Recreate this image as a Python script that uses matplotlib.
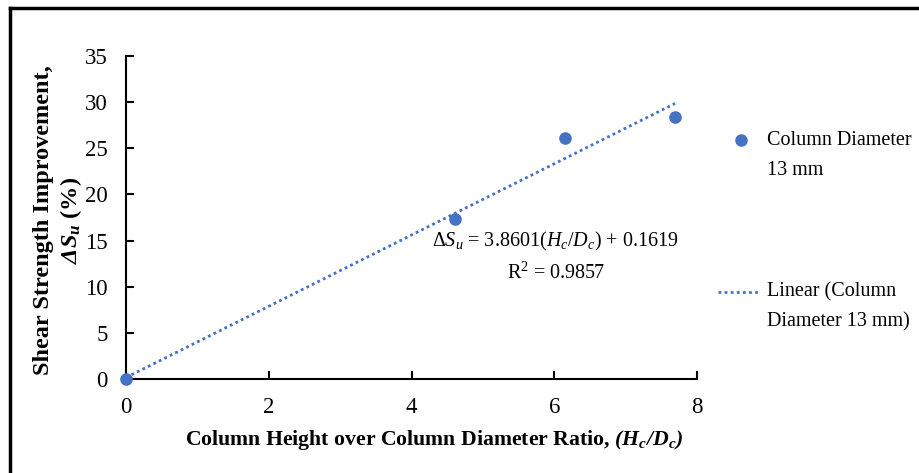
import matplotlib
matplotlib.use("Agg")
import matplotlib.pyplot as plt
from matplotlib.lines import Line2D
import numpy as np

plt.rcParams['font.family'] = ['Liberation Serif', 'DejaVu Serif']
plt.rcParams['mathtext.fontset'] = 'custom'
plt.rcParams['mathtext.rm'] = 'Liberation Serif'
plt.rcParams['mathtext.it'] = 'Liberation Serif:italic'
plt.rcParams['mathtext.bf'] = 'Liberation Serif:bold'
plt.rcParams['mathtext.bfit'] = 'Liberation Serif:bold:italic'

# Data
ratio = [0.0, 4.615, 6.154, 7.692]
improvement = [0.0, 17.3, 26.1, 28.4]
slope = 3.8601
intercept = 0.1619
r2 = 0.9857
xticks = [0, 2, 4, 6, 8]
yticks = [0, 5, 10, 15, 20, 25, 30, 35]
legend_labels = ['Column Diameter\n13 mm', 'Linear (Column\nDiameter 13 mm)']

blue = '#4472C4'

fig = plt.figure(figsize=(9.2, 4.73), dpi=100)
ax = fig.add_axes([0.137, 0.1987, 0.6206, 0.6829])

ax.scatter(ratio, improvement, s=65, color=blue, zorder=3, clip_on=False)
xf = np.array([min(ratio), max(ratio)])
ax.plot(xf, slope * xf + intercept, linestyle=(0, (1, 1.2)), color=blue, lw=2.0, zorder=2)

ax.set_xlim(0, 8)
ax.set_ylim(0, 35)
ax.set_xticks(xticks)
ax.set_yticks(yticks)
ax.spines['top'].set_visible(False)
ax.spines['right'].set_visible(False)
for s in ('left', 'bottom'):
    ax.spines[s].set_linewidth(1.5)
ax.tick_params(direction='in', length=6, width=1.5, labelsize=16.5, pad=13)

ax.set_xlabel('Column Height over Column Diameter Ratio, $\\mathbfit{(H_c/D_c)}$',
              fontsize=15.7, fontweight='bold')
ax.xaxis.set_label_coords(0.539, -0.152)
ax.set_ylabel('Shear Strength Improvement,\n$\\mathbfit{ΔS_u}$ (%)',
              fontsize=17.5, fontweight='bold', linespacing=1.2)
ax.yaxis.set_label_coords(-0.074, 0.492)

ax.text(6.02, 13.2,
        '$\\mathit{ΔS_u}$ = %.4f($\\mathit{H_c/D_c}$) + %.4f\nR$^2$ = %.4f' % (slope, intercept, r2),
        ha='center', va='center', fontsize=14.5, linespacing=1.6)

# legend (handle aligned with the first line of each label, as in the original)
fig.add_artist(Line2D([0.8054], [0.704], transform=fig.transFigure, marker='o',
                      linestyle='none', color=blue, markersize=8))
fig.add_artist(Line2D([0.7804, 0.8261], [0.3827, 0.3827], transform=fig.transFigure,
                      linestyle=(0, (1, 1.2)), color=blue, lw=2.0))
fig.text(0.8337, 0.6712, legend_labels[0], ha='left', va='center', fontsize=14.5, linespacing=1.72)
fig.text(0.8337, 0.351, legend_labels[1], ha='left', va='center', fontsize=14.5, linespacing=1.72)

# outer frame (top and left edges)
fig.add_artist(Line2D([0.0105, 0.0105], [0, 0.983], transform=fig.transFigure, color='black', lw=2.5))
fig.add_artist(Line2D([0.0105, 1.0], [0.983, 0.983], transform=fig.transFigure, color='black', lw=2.5))

fig.savefig('out.png', dpi=100)
